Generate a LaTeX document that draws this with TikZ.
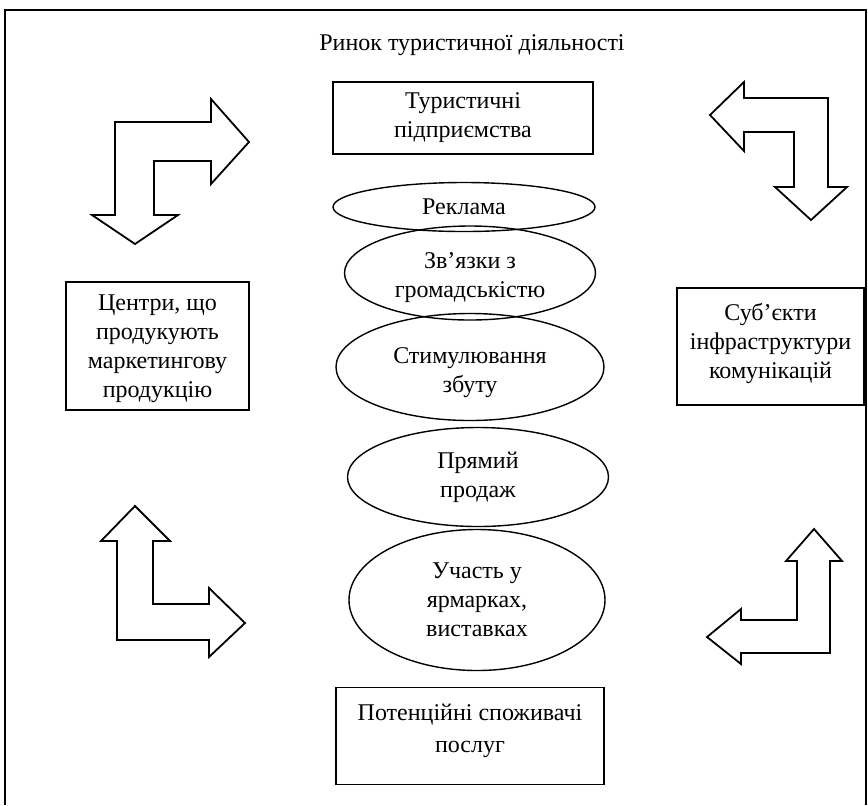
\documentclass[tikz,border=0pt]{standalone}
\usepackage{fontspec}
\setmainfont{Liberation Serif}
\usetikzlibrary{shapes.geometric}

\tikzset{
  box/.style={draw, line width=0.9pt, align=center, inner sep=0pt},
  oval/.style={draw, ellipse, line width=0.7pt, align=center, inner sep=0pt},
  bentarrow/.style={draw, line width=0.9pt, line join=miter},
  every node/.style={font=\fontsize{12}{14.5}\selectfont}
}

\begin{document}
\begin{tikzpicture}[x=0.5pt,y=-0.5pt]
\useasboundingbox (0,0) rectangle (868,805);
% frame
\draw[line width=0.7pt] (5,805)--(5,10)--(866,10)--(866,805);
\node (market) at (472,45) {Ринок туристичної діяльності};
% boxes
\node[box, minimum width=130pt, minimum height=36pt] (firms) at (463,118) {Туристичні\\підприємства};
\node[box, minimum width=91.5pt, minimum height=64pt] (centres) at (157.5,346) {\rule{0pt}{10.5pt}Центри, що\\продукують\\маркетингову\\продукцію};
\node[box, minimum width=93.5pt, minimum height=58.5pt] (infra) at (770.5,346.5) {Суб’єкти\\інфраструктури\\комунікацій\rule[-6pt]{0pt}{0pt}};
\node[box, minimum width=134pt, minimum height=48.5pt] (clients) at (470,736) {Потенційні споживачі\\[1.5pt]послуг\rule[-8pt]{0pt}{0pt}};
% tools
\node[oval, minimum width=131pt, minimum height=24.5pt] (ads) at (464,207) {Реклама};
\node[oval, minimum width=125.5pt, minimum height=47pt] (pr) at (470,273) {\rule{0pt}{13pt}Зв’язки з\\громадськістю};
\node[oval, minimum width=134pt, minimum height=53.5pt] (promo) at (470,367) {\rule{0pt}{13.5pt}Стимулювання\\збуту};
\node[oval, minimum width=130.5pt, minimum height=49.5pt] (sales) at (478,477) {Прямий\\продаж};
\node[oval, minimum width=128pt, minimum height=70.5pt] (fairs) at (477,600) {Участь у\\ярмарках,\\виставках};
% bent arrows
\draw[bentarrow] (115,122)--(211,122)--(211,99)--(249,142)--(211,184)--(211,161)--(154,161)
  --(154,215)--(178,215)--(135,244)--(92,215)--(115,215)--cycle;
\draw[bentarrow] (744,82)--(744,98)--(828,98)--(828,187)--(847,187)--(811,220)--(775,187)
  --(794,187)--(794,132)--(744,132)--(744,151)--(710,115)--cycle;
\draw[bentarrow] (117,640)--(209,640)--(209,657)--(245,623)--(209,588)--(209,604)--(153,604)
  --(153,541)--(170,541)--(135,506)--(101,541)--(117,541)--cycle;
\draw[bentarrow] (830,653)--(741,653)--(741,664)--(707,637)--(741,609)--(741,620)--(797,620)
  --(797,561)--(786,561)--(814,529)--(842,561)--(830,561)--cycle;
\end{tikzpicture}
\end{document}
